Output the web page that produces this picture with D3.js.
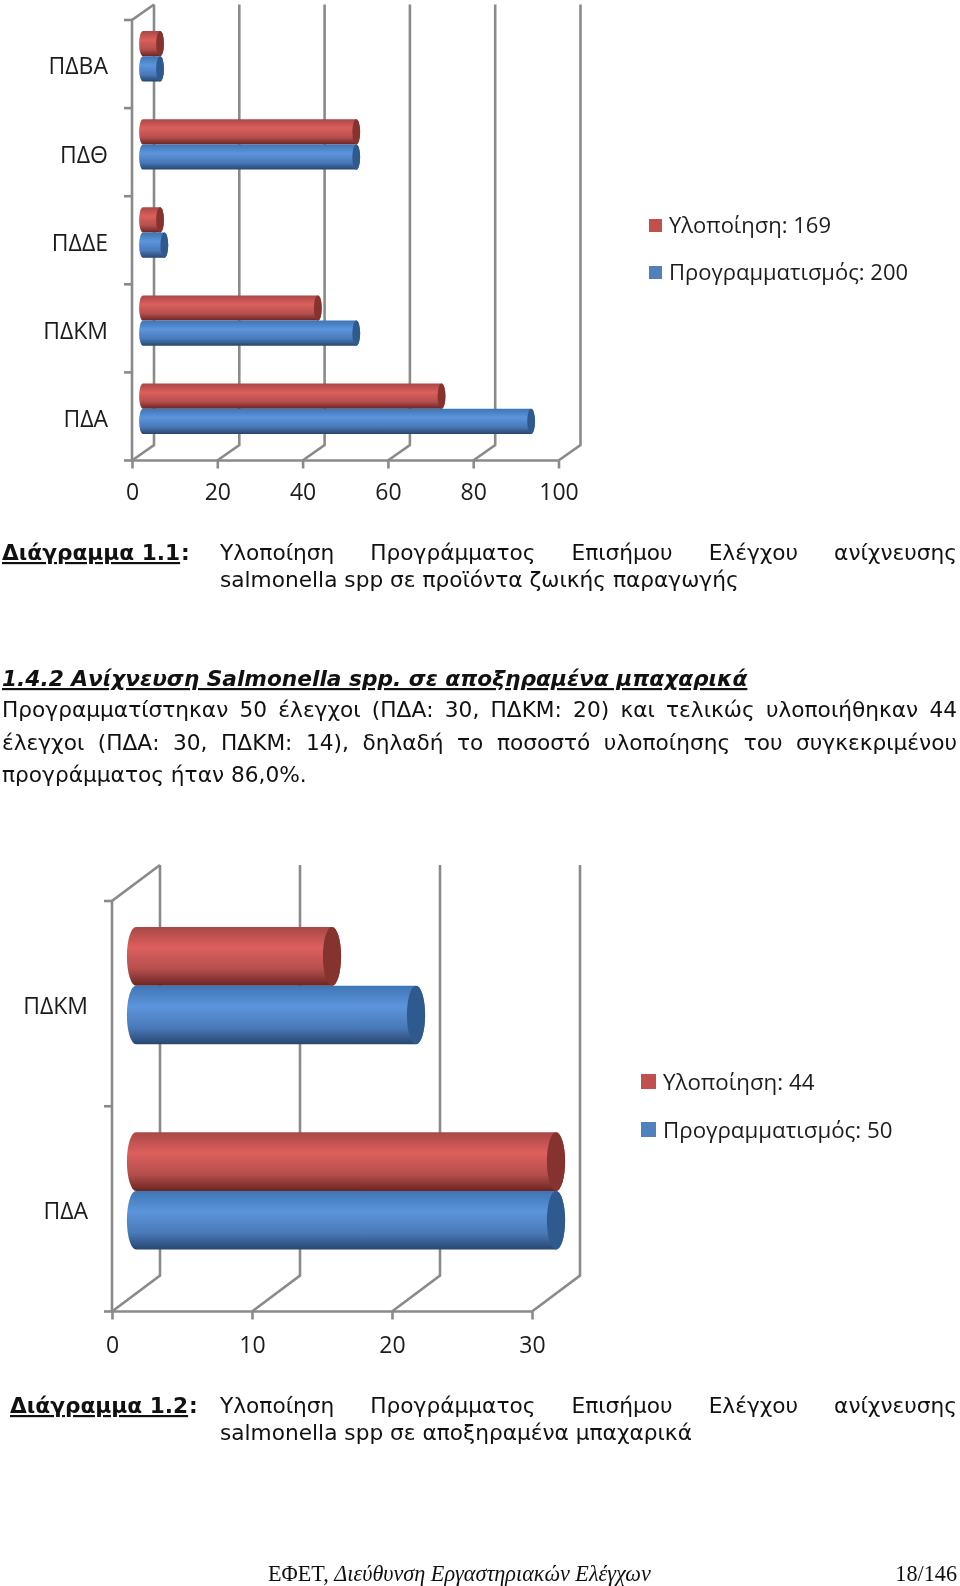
<!DOCTYPE html>
<html>
<head>
<meta charset="utf-8">
<script src="https://cdn.jsdelivr.net/npm/d3@7"></script>
<style>
  body { margin: 0; background: #fff; }
  svg { display: block; }
  .chart-label { font-family: "Open Sans", sans-serif; fill: #1c1c1c; }
  .doc { font-family: "DejaVu Sans", sans-serif; fill: #111; }
  .foot { font-family: "Liberation Serif", serif; fill: #111; }
</style>
</head>
<body>
<svg id="page" width="960" height="1586"></svg>
<script>
// chart 1.1
const categories1 = ["ΠΔΑ", "ΠΔΚΜ", "ΠΔΔΕ", "ΠΔΘ", "ΠΔΒΑ"];
const planned1 = [91, 50, 5, 50, 4];
const done1 = [70, 41, 4, 50, 4];
const ticks1 = [0, 20, 40, 60, 80, 100];
const legend1 = ["Υλοποίηση: 169", "Προγραμματισμός: 200"];

// chart 1.2
const categories2 = ["ΠΔΑ", "ΠΔΚΜ"];
const planned2 = [30, 20];
const done2 = [30, 14];
const ticks2 = [0, 10, 20, 30];
const legend2 = ["Υλοποίηση: 44", "Προγραμματισμός: 50"];

const colors = {
  red: { edge: "#a84846", light: "#dc5f5d", mid: "#b44f4d", dark: "#6b2523", cap: "#86332f" },
  blue: { edge: "#3f74b4", light: "#5c95dc", mid: "#4a79b8", dark: "#27466f", cap: "#2f5a8f" },
};
const gridColor = "#8a8a8a";

const svg = d3.select("#page");
const defs = svg.append("defs");

// the source charts are soft, pasted-in bitmaps
defs.append("filter").attr("id", "soft")
  .append("feGaussianBlur").attr("stdDeviation", 0.5);

Object.keys(colors).forEach((name) => {
  const c = colors[name];
  const grad = defs.append("linearGradient")
    .attr("id", "tube-" + name)
    .attr("x1", 0).attr("y1", 0).attr("x2", 0).attr("y2", 1);
  grad.append("stop").attr("offset", "0%").attr("stop-color", c.edge);
  grad.append("stop").attr("offset", "35%").attr("stop-color", c.light);
  grad.append("stop").attr("offset", "72%").attr("stop-color", c.mid);
  grad.append("stop").attr("offset", "100%").attr("stop-color", c.dark);
});

function drawChart(cfg) {
  const g = svg.append("g").attr("filter", "url(#soft)");
  const x = d3.scaleLinear().domain(d3.extent(cfg.ticks)).range([cfg.left, cfg.right]);
  const y = d3.scaleBand().domain(cfg.categories).range([cfg.bottom, cfg.top]);

  // back wall, floor diagonals
  const grid = g.append("g").attr("stroke", gridColor).attr("stroke-width", 2.6).attr("fill", "none");
  cfg.ticks.forEach((t) => {
    grid.append("path").attr("d", d3.line()([
      [x(t), cfg.bottom],
      [x(t) + cfg.dx, cfg.bottom - cfg.dy],
      [x(t) + cfg.dx, cfg.top - cfg.dy],
    ]));
  });
  grid.append("path").attr("d", d3.line()([
    [cfg.left, cfg.bottom],
    [cfg.left, cfg.top],
    [cfg.left + cfg.dx, cfg.top - cfg.dy],
  ]));
  grid.append("path").attr("d", d3.line()([[cfg.left, cfg.bottom], [cfg.right, cfg.bottom]]));

  // value axis
  const xAxis = g.append("g")
    .attr("transform", `translate(0,${cfg.bottom})`)
    .call(d3.axisBottom(x).tickValues(cfg.ticks).tickSize(8).tickPadding(cfg.tickPad).tickFormat(d3.format("d")));
  xAxis.select(".domain").remove();
  xAxis.selectAll("line").attr("stroke", gridColor).attr("stroke-width", 2.6);
  xAxis.selectAll("text").attr("class", "chart-label").attr("font-size", cfg.fontSize).attr("font-family", null);

  // category axis, ticks go between the bands
  const yAxis = g.append("g")
    .attr("transform", `translate(${cfg.left},0)`)
    .call(d3.axisLeft(y).tickSize(0).tickPadding(cfg.catPad));
  yAxis.select(".domain").remove();
  yAxis.selectAll("text")
    .attr("class", "chart-label")
    .attr("font-size", cfg.fontSize)
    .attr("font-family", null)
    .attr("transform", `translate(0,${cfg.catShift})`);
  const edges = cfg.categories.map((c) => y(c)).concat([cfg.bottom]);
  yAxis.selectAll("line.sep").data(edges).join("line")
    .attr("class", "sep")
    .attr("x1", -8).attr("x2", 0)
    .attr("y1", (d) => d).attr("y2", (d) => d)
    .attr("stroke", gridColor).attr("stroke-width", 2.6);

  // tubes
  const barH = y.bandwidth() * 0.286;
  const rx = barH * 0.155;
  const ry = barH / 2;
  const mid = (c) => y(c) + y.bandwidth() / 2 - cfg.dy / 2;

  function tube(name, yTop, value) {
    const x0 = x(0) + cfg.dx / 2;
    const x1 = x(value) + cfg.dx / 2;
    const t = g.append("g");
    t.append("path")
      .attr("d", `M${x0},${yTop} L${x1},${yTop} A${rx},${ry} 0 0 1 ${x1},${yTop + barH} L${x0},${yTop + barH} A${rx},${ry} 0 0 1 ${x0},${yTop} Z`)
      .attr("fill", `url(#tube-${name})`);
    t.append("ellipse")
      .attr("cx", x1).attr("cy", yTop + ry)
      .attr("rx", rx).attr("ry", ry)
      .attr("fill", colors[name].cap);
  }

  cfg.categories.forEach((c, i) => {
    tube("red", mid(c) - barH, cfg.done[i]);
    tube("blue", mid(c), cfg.planned[i]);
  });

  // legend
  const leg = g.append("g");
  cfg.legend.forEach((txt, i) => {
    const base = cfg.legendY[i];
    leg.append("rect")
      .attr("x", cfg.legendX).attr("y", base - cfg.legendBox - 1)
      .attr("width", cfg.legendBox).attr("height", cfg.legendBox)
      .attr("fill", i === 0 ? "#c0504d" : "#4f81bd");
    leg.append("text")
      .attr("class", "chart-label")
      .attr("x", cfg.legendX + cfg.legendBox + 7).attr("y", base)
      .attr("font-size", cfg.legendSize)
      .text(txt);
  });
}

drawChart({
  categories: categories1, planned: planned1, done: done1, ticks: ticks1, legend: legend1,
  left: 132, right: 558.5, top: 20, bottom: 460.5, dx: 22, dy: 15.5,
  fontSize: 23, legendSize: 22, tickPad: 15, catPad: 24, catShift: 3,
  legendX: 649, legendBox: 13, legendY: [233, 280],
});

drawChart({
  categories: categories2, planned: planned2, done: done2, ticks: ticks2, legend: legend2,
  left: 112, right: 532, top: 901, bottom: 1311.5, dx: 48, dy: 36,
  fontSize: 23, legendSize: 22.3, tickPad: 17, catPad: 24, catShift: 3,
  legendX: 641, legendBox: 15, legendY: [1090, 1138],
});

// document text
function docText(txt, px, py, size, opts) {
  const o = opts || {};
  const t = svg.append("text")
    .attr("class", o.cls || "doc")
    .attr("x", px).attr("y", py)
    .attr("font-size", size)
    .attr("font-weight", o.bold ? "bold" : null)
    .attr("font-style", o.italic ? "italic" : null)
    .attr("text-decoration", o.underline ? "underline" : null)
    .attr("text-anchor", o.anchor || null)
    .text(txt);
  if (o.justifyTo) {
    const gaps = txt.split(" ").length - 1;
    const extra = (o.justifyTo - px - t.node().getComputedTextLength()) / gaps;
    t.attr("word-spacing", extra);
  }
  return t;
}

const bodySize = 21.7;
const rightEdge = 957;

docText("Διάγραμμα 1.1", 2, 560, bodySize, { bold: true, underline: true });
docText(":", 181, 560, bodySize, { bold: true });
docText("Υλοποίηση Προγράμματος Επισήμου Ελέγχου ανίχνευσης", 220, 560, bodySize, { justifyTo: rightEdge });
docText("salmonella spp σε προϊόντα ζωικής παραγωγής", 220, 587, bodySize);

docText("1.4.2 Ανίχνευση Salmonella spp. σε αποξηραμένα μπαχαρικά", 2, 686, bodySize, { bold: true, italic: true, underline: true });
docText("Προγραμματίστηκαν 50 έλεγχοι (ΠΔΑ: 30, ΠΔΚΜ: 20) και τελικώς υλοποιήθηκαν 44", 2, 717, bodySize, { justifyTo: rightEdge });
docText("έλεγχοι (ΠΔΑ: 30, ΠΔΚΜ: 14), δηλαδή το ποσοστό υλοποίησης του συγκεκριμένου", 2, 750, bodySize, { justifyTo: rightEdge });
docText("προγράμματος ήταν 86,0%.", 2, 782, bodySize);

docText("Διάγραμμα 1.2", 10, 1413, bodySize, { bold: true, underline: true });
docText(":", 189, 1413, bodySize, { bold: true });
docText("Υλοποίηση Προγράμματος Επισήμου Ελέγχου ανίχνευσης", 220, 1413, bodySize, { justifyTo: rightEdge });
docText("salmonella spp σε αποξηραμένα μπαχαρικά", 220, 1440, bodySize);

const foot = docText("ΕΦΕΤ, ", 268, 1581, 22.2, { cls: "foot" });
foot.append("tspan").attr("font-style", "italic").text("Διεύθυνση Εργαστηριακών Ελέγχων");
docText("18/146", 957, 1581, 22.2, { cls: "foot", anchor: "end" });
</script>
</body>
</html>
